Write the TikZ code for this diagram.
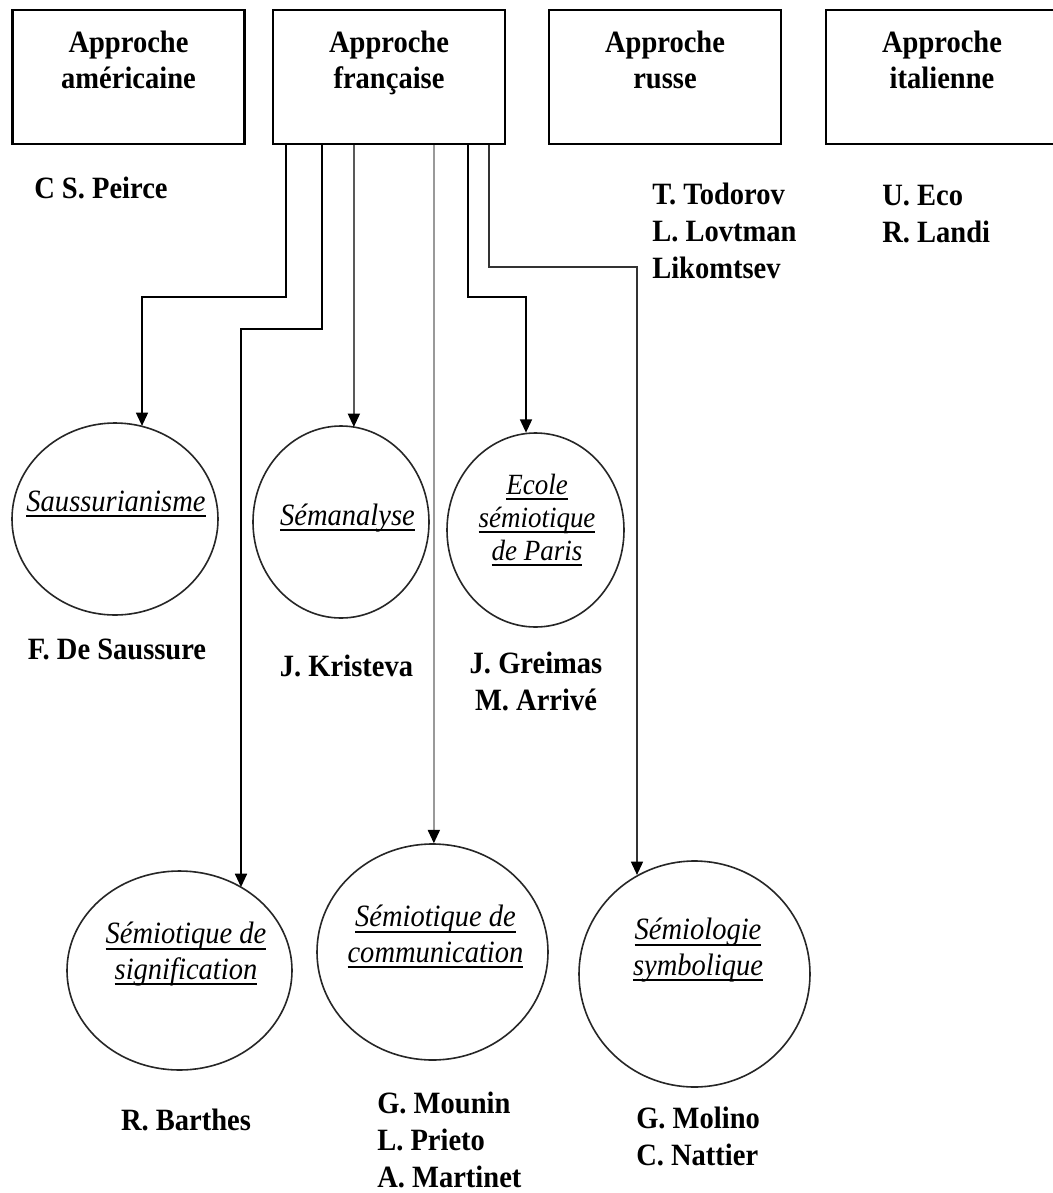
\documentclass[tikz,border=0pt]{standalone}
\usepackage{fontspec}
\setmainfont{Liberation Serif}[FakeStretch=0.92]
\usetikzlibrary{arrows.meta,calc,shapes.geometric}

% thick underline set a little below the baseline, as wide as the word
\newcommand\ulw[1]{\leavevmode\setbox0\hbox{#1}\rlap{\raisebox{-4.7pt}{\rule{\wd0}{1.7pt}}}\box0}

% multi-line nodes are placed by the baseline of their last line
\tikzset{
  apbox/.style={draw, line width=1.7pt, minimum width=174pt, minimum height=100.5pt, inner sep=0pt},
  title/.style={font=\bfseries\fontsize{23.25pt}{27pt}\selectfont, align=center, anchor=base, inner sep=0pt},
  names/.style={font=\bfseries\fontsize{23.25pt}{27.75pt}\selectfont, align=left, anchor=base west, inner sep=0pt},
  school/.style={draw=black!85, line width=1.2pt, ellipse, inner sep=0pt},
  schooltxt/.style={font=\itshape\fontsize{23.25pt}{26.5pt}\selectfont, align=center, anchor=base, inner sep=0pt},
  conn/.style={line width=1.3pt, -{Triangle[width=9pt,length=10pt,color=black]}},
}

\begin{document}
\begin{tikzpicture}[x=0.75pt,y=-0.75pt]
\useasboundingbox[fill=white] (0,0) rectangle (1053,1193);

% the four approaches
\node[apbox] (am) at (128.5,77) {};
\node[apbox] (fr) at (389,77) {};
\node[apbox] (ru) at (665,77) {};
\node[apbox] (it) at (942,77) {};
\node[title] (amT) at (128.5,88) {Approche\\américaine};
\node[title] (frT) at (389,88) {Approche\\française};
\node[title] (ruT) at (665,88) {Approche\\russe};
\node[title] (itT) at (942,88) {Approche\\italienne};

% authors of the approaches
\node[names] (peirce) at (34,198) {C S. Peirce};
\node[names] (rus) at (652,278) {T. Todorov\\L. Lovtman\\Likomtsev};
\node[names] (ita) at (882,242) {U. Eco\\R. Landi};

% schools of the French approach
\node[school, minimum width=154.5pt, minimum height=144pt] (sau) at (115,519) {};
\node[school, minimum width=132pt, minimum height=144pt] (sem) at (341,522) {};
\node[school, minimum width=132.75pt, minimum height=145.5pt] (eco) at (535.5,530) {};
\node[school, minimum width=168.75pt, minimum height=149.25pt] (sig) at (179.5,970.5) {};
\node[school, minimum width=173.25pt, minimum height=162pt] (com) at (432.5,952) {};
\node[school, minimum width=173.25pt, minimum height=169.5pt] (sym) at (694.5,974) {};

\node[schooltxt] (sauT) at (116,511) {\ulw{Saussurianisme}};
\node[schooltxt] (semT) at (347.5,525) {\ulw{Sémanalyse}};
\node[schooltxt, font=\itshape\fontsize{22pt}{24.75pt}\selectfont] (ecoT) at (537,560) {\ulw{Ecole}\\\ulw{sémiotique}\\\ulw{de Paris}};
\node[schooltxt] (sigT) at (186,979) {\ulw{Sémiotique de}\\\ulw{signification}};
\node[schooltxt] (comT) at (435.5,962) {\ulw{Sémiotique de}\\\ulw{communication}};
\node[schooltxt] (symT) at (698,975) {\ulw{Sémiologie}\\\ulw{symbolique}};

% authors of the schools
\node[title] (saussure) at (117,659) {F. De Saussure};
\node[title] (kristeva) at (346.5,676) {J. Kristeva};
\node[title, font=\bfseries\fontsize{23.25pt}{27.75pt}\selectfont] (greimas) at (536,710) {J. Greimas\\M. Arrivé};
\node[title] (barthes) at (186,1130) {R. Barthes};
\node[names] (mounin) at (377,1187) {G. Mounin\\L. Prieto\\A. Martinet};
\node[names] (molino) at (636,1165) {G. Molino\\C. Nattier};

% connectors from the French approach
\coordinate (k1) at (142,297);
\coordinate (k2) at (241,329);
\coordinate (k5) at (526,297);
\coordinate (k6) at (637,267);
\draw[conn] ($(fr.south west)+(14,0)$) |- (k1) -- (k1 |- sau.73.74);
\draw[conn] ($(fr.south west)+(50,0)$) |- (k2) -- (k2 |- sig.53.56);
\draw[conn, draw=black!65] ($(fr.south west)+(82,0)$) coordinate (s3) -- (s3 |- sem.80.99);
\draw[conn, draw=black!40] ($(fr.south west)+(162,0)$) coordinate (s4) -- (s4 |- com.88.2);
\draw[conn] ($(fr.south west)+(196,0)$) |- (k5) -- (k5 |- eco.95.63);
\draw[conn, draw=black!80] ($(fr.south west)+(217,0)$) |- (k6) -- (k6 |- sym.120.4);
\end{tikzpicture}
\end{document}
